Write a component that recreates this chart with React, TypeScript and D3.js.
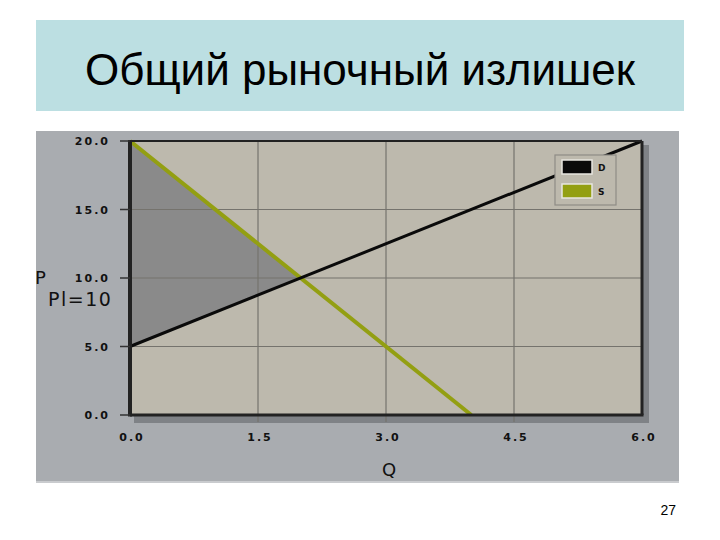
import React from "react";
import * as d3 from "d3";

// chart data
const qTicks = [0, 1.5, 3.0, 4.5, 6.0];
const pTicks = [0, 5, 10, 15, 20];
const lineD = [
  { q: 0, p: 5 },
  { q: 6, p: 20 },
];
const lineS = [
  { q: 0, p: 20 },
  { q: 4, p: 0 },
];
const surplus = [
  { q: 0, p: 20 },
  { q: 2, p: 10 },
  { q: 0, p: 5 },
];
const legendItems = [
  { label: "D", color: "#0a0a0a" },
  { label: "S", color: "#939f12" },
];

const W = 720;
const H = 540;

export default function App() {
  const x = d3.scaleLinear().domain([0, 6]).range([130, 642]);
  const y = d3.scaleLinear().domain([0, 20]).range([415, 141]);
  const line = d3
    .line<{ q: number; p: number }>()
    .x((d) => x(d.q))
    .y((d) => y(d.p));

  const left = x(0);
  const right = x(6);
  const top = y(20);
  const bottom = y(0);

  const tickFont = {
    fontFamily: "DejaVu Sans",
    fontWeight: "bold" as const,
    fontSize: 11,
    letterSpacing: 2,
    fill: "#111",
  };

  return (
    <svg
      width={W}
      height={H}
      style={{ position: "absolute", left: 0, top: 0, background: "#fff" }}
    >
      {/* title box */}
      <rect x={36} y={20} width={648} height={91} fill="#bcdfe2" />
      <text
        x={360}
        y={85}
        textAnchor="middle"
        fontFamily="Liberation Sans, Arial"
        fontSize={44}
        fill="#000"
      >
        Общий рыночный излишек
      </text>

      {/* chart panel */}
      <rect x={36} y={131} width={643} height={351} fill="#a9acb0" />
      <line x1={36} x2={679} y1={482} y2={482} stroke="#c9cbce" strokeWidth={2} />

      {/* plot shadow */}
      <rect x={left + 4} y={top + 4} width={right - left + 3} height={bottom - top + 4} fill="#7f8286" />
      {/* plot background */}
      <rect x={left} y={top} width={right - left} height={bottom - top} fill="#bdb9ad" />

      {/* shaded surplus */}
      <path d={line(surplus) + "Z"} fill="#8a8a8a" />

      {/* grid */}
      {qTicks.slice(1, -1).map((t) => (
        <line key={"gx" + t} x1={x(t)} x2={x(t)} y1={top} y2={bottom + 7} stroke="#75736d" strokeWidth={1.2} />
      ))}
      {pTicks.slice(1, -1).map((t) => (
        <line key={"gy" + t} x1={left} x2={right} y1={y(t)} y2={y(t)} stroke="#75736d" strokeWidth={1.2} />
      ))}

      {/* lines */}
      <path d={line(lineS) ?? ""} stroke="#939f12" strokeWidth={4} fill="none" />
      <path d={line(lineD) ?? ""} stroke="#0a0a0a" strokeWidth={3} fill="none" />

      {/* plot frame */}
      <line x1={left} x2={right} y1={top} y2={top} stroke="#222" strokeWidth={2} />
      <line x1={right} x2={right} y1={top} y2={bottom} stroke="#222" strokeWidth={3} />
      <line x1={left} x2={right + 1.5} y1={bottom} y2={bottom} stroke="#222" strokeWidth={3} />
      <line x1={left} x2={left} y1={top - 1} y2={bottom + 1.5} stroke="#222" strokeWidth={4} />

      {/* y ticks */}
      {pTicks.map((t) => (
        <g key={"ty" + t}>
          <line x1={left - 10} x2={left} y1={y(t)} y2={y(t)} stroke="#333" strokeWidth={1.5} />
          <text x={110} y={y(t) + 4} textAnchor="end" style={tickFont}>
            {t.toFixed(1)}
          </text>
        </g>
      ))}

      {/* x ticks */}
      {qTicks.map((t) => (
        <text key={"tx" + t} x={x(t) + 2} y={441} textAnchor="middle" style={tickFont}>
          {t.toFixed(1)}
        </text>
      ))}

      {/* axis labels */}
      <text x={35} y={284} fontFamily="DejaVu Sans" fontSize={18} fill="#111">
        P
      </text>
      <text x={48} y={306} fontFamily="DejaVu Sans" fontSize={19} letterSpacing={1.5} fill="#111">
        Pl=10
      </text>
      <text x={389} y={476} textAnchor="middle" fontFamily="DejaVu Sans" fontSize={18} fill="#111">
        Q
      </text>

      {/* legend */}
      <rect x={555} y={155} width={61} height={50} fill="#bdb9ad" stroke="#8e8c86" strokeWidth={1.2} />
      {legendItems.map((d, i) => (
        <g key={d.label}>
          <rect x={562} y={160 + i * 24} width={30} height={14} fill={d.color} stroke="#e8e6e0" strokeWidth={1.5} />
          <text x={598} y={171 + i * 24} style={{ ...tickFont, fontSize: 9, letterSpacing: 0 }}>
            {d.label}
          </text>
        </g>
      ))}

      {/* page number */}
      <text x={676} y={515} textAnchor="end" fontFamily="Liberation Sans, Arial" fontSize={14} fill="#000">
        27
      </text>
    </svg>
  );
}
